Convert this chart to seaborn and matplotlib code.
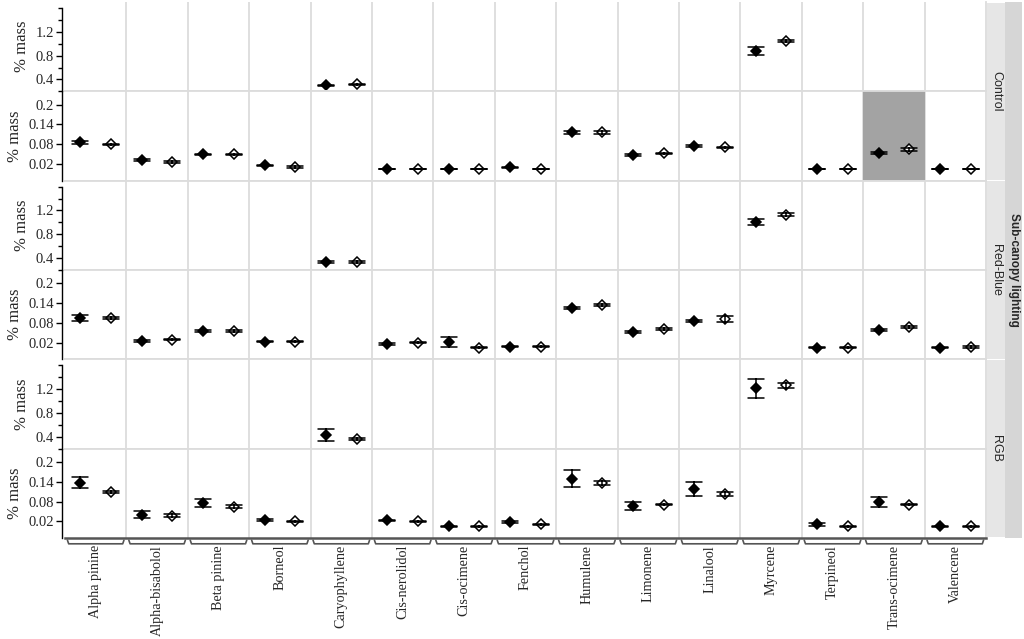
import matplotlib
matplotlib.use('Agg')
import matplotlib.pyplot as plt
import matplotlib.transforms as mtransforms
from matplotlib.patches import Rectangle
from matplotlib.ticker import MultipleLocator
import pandas as pd
import seaborn as sns

# ------------------------------------- DATA -------------------------------------
terpenes = ['Alpha pinine', 'Alpha-bisabolol', 'Beta pinine', 'Borneol', 'Caryophyllene',
            'Cis-nerolidol', 'Cis-ocimene', 'Fenchol', 'Humulene', 'Limonene',
            'Linalool', 'Myrcene', 'Terpineol', 'Trans-ocimene', 'Valencene']
lighting = ['Control', 'Red-Blue', 'RGB']
kinds = ['Filled', 'Open']

control_filled = [0.086, 0.032, 0.050, 0.016, 0.298, 0.005, 0.005, 0.010, 0.116, 0.047, 0.074, 0.876, 0.005, 0.053, 0.005]
control_filled_err = [0.004, 0.002, 0.002, 0.002, 0.015, 0.001, 0.001, 0.002, 0.004, 0.003, 0.003, 0.070, 0.001, 0.003, 0.001]
control_open = [0.080, 0.026, 0.050, 0.011, 0.315, 0.005, 0.005, 0.005, 0.116, 0.053, 0.071, 1.046, 0.005, 0.065, 0.005]
control_open_err = [0.002, 0.004, 0.002, 0.002, 0.015, 0.001, 0.001, 0.001, 0.004, 0.002, 0.002, 0.020, 0.001, 0.004, 0.001]

redblue_filled = [0.095, 0.026, 0.056, 0.023, 0.332, 0.017, 0.022, 0.008, 0.125, 0.053, 0.086, 1.012, 0.005, 0.059, 0.005]
redblue_filled_err = [0.010, 0.003, 0.003, 0.002, 0.015, 0.003, 0.015, 0.002, 0.004, 0.004, 0.003, 0.050, 0.002, 0.002, 0.002]
redblue_open = [0.095, 0.029, 0.056, 0.023, 0.332, 0.020, 0.005, 0.008, 0.134, 0.062, 0.092, 1.130, 0.005, 0.068, 0.008]
redblue_open_err = [0.004, 0.002, 0.004, 0.002, 0.015, 0.002, 0.001, 0.002, 0.003, 0.004, 0.008, 0.030, 0.002, 0.002, 0.003]

rgb_filled = [0.137, 0.041, 0.077, 0.023, 0.434, 0.023, 0.005, 0.017, 0.149, 0.068, 0.119, 1.216, 0.011, 0.080, 0.005]
rgb_filled_err = [0.017, 0.010, 0.012, 0.003, 0.100, 0.002, 0.002, 0.003, 0.026, 0.012, 0.021, 0.160, 0.004, 0.015, 0.002]
rgb_open = [0.110, 0.038, 0.065, 0.020, 0.366, 0.020, 0.005, 0.011, 0.137, 0.071, 0.104, 1.267, 0.005, 0.071, 0.005]
rgb_open_err = [0.003, 0.004, 0.004, 0.002, 0.015, 0.002, 0.001, 0.002, 0.006, 0.002, 0.006, 0.040, 0.001, 0.002, 0.001]

series = {
    ('Control', 'Filled'): (control_filled, control_filled_err),
    ('Control', 'Open'): (control_open, control_open_err),
    ('Red-Blue', 'Filled'): (redblue_filled, redblue_filled_err),
    ('Red-Blue', 'Open'): (redblue_open, redblue_open_err),
    ('RGB', 'Filled'): (rgb_filled, rgb_filled_err),
    ('RGB', 'Open'): (rgb_open, rgb_open_err),
}

# long table: each value is stored as mean-err and mean+err, so the pointplot
# estimate is the mean and the min/max interval is the error bar
rows = []
for (light, kind), (means, errs) in series.items():
    for name, m, e in zip(terpenes, means, errs):
        rows.append((light, kind, name, m, m - e))
        rows.append((light, kind, name, m, m + e))
df = pd.DataFrame(rows, columns=['lighting', 'kind', 'terpene', 'value', 'mass'])

# broken y axis: upper panel shows the large values, lower panel the small ones
upper_lim, lower_lim = (0.2, 1.7), (-0.03, 0.24)

# ------------------------------------- FIGURE -----------------------------------
sns.set_theme(style='white')
plt.rcParams['font.family'] = ['Liberation Serif', 'DejaVu Serif']

fig = plt.figure(figsize=(10.24, 6.39), dpi=100)
left, right = 65 / 1024, 986 / 1024
top, bottom = 1 - 2 / 639, 1 - 538 / 639
gs = fig.add_gridspec(6, 1, left=left, right=right, top=top, bottom=bottom, hspace=0)

grid_col = '#dcdcdc'
for g, light in enumerate(lighting):
    sub = df[df.lighting == light]
    for p in range(2):
        ax = fig.add_subplot(gs[2 * g + p])
        lim = upper_lim if p == 0 else lower_lim
        part = sub[(sub.value > lim[0]) & (sub.value < lim[1])]
        sns.pointplot(data=part, x='terpene', y='mass', hue='kind', order=terpenes,
                      hue_order=kinds, palette={'Filled': 'black', 'Open': 'black'},
                      markers='D', linestyle='none', dodge=0.5,
                      errorbar=lambda v: (v.min(), v.max()), capsize=0.26,
                      err_kws={'linewidth': 1.1}, markersize=5.5, markeredgewidth=1.1,
                      legend=False, ax=ax)
        # second series drawn as open diamonds
        d_lines = [l for l in ax.lines if l.get_marker() == 'D']
        d_lines[1].set_markerfacecolor('white')

        for i in range(len(terpenes) - 1):
            ax.axvline(i + 0.5, color=grid_col, lw=1.3, zorder=0)
        if light == 'Control' and p == 1:
            ax.axvspan(12.5, 13.5, color='#a3a3a3', lw=0, zorder=0)

        ax.set_xlim(-0.5, len(terpenes) - 0.5)
        ax.set_ylim(*lim)
        ax.set_xlabel('')
        ax.set_ylabel('% mass', fontsize=12, labelpad=4)

        if p == 0:
            ax.set_yticks([0.4, 0.8, 1.2])
            ax.set_yticklabels(['0.4', '0.8', '1.2'])
            ax.yaxis.set_minor_locator(MultipleLocator(0.2))
            ax.spines['left'].set_bounds(0.2, 1.6)
        else:
            ax.set_yticks([0.02, 0.08, 0.14, 0.2])
            ax.set_yticklabels(['0.02', '0.08', '0.14', '0.2'])

        ax.tick_params(axis='y', which='both', left=True, direction='out',
                       color='black', width=1, labelsize=10.5, pad=2)
        ax.tick_params(axis='y', which='major', length=4)
        ax.tick_params(axis='y', which='minor', length=3)

        ax.spines['left'].set_color('black')
        ax.spines['left'].set_linewidth(1)
        ax.spines['left'].set_position(('outward', 2))
        for side in ['top', 'right', 'bottom']:
            ax.spines[side].set_color(grid_col)
            ax.spines[side].set_linewidth(1.3)
        if g == 0 and p == 0:
            ax.spines['top'].set_visible(False)

        if g == 2 and p == 1:
            ax.spines['bottom'].set_color('#555555')
            ax.spines['bottom'].set_linewidth(1.8)
            ax.tick_params(axis='x', length=0, pad=5, labelsize=10.2, labelrotation=90)
            # bracket under every column
            trans = mtransforms.blended_transform_factory(ax.transData, ax.transAxes)
            for i in range(len(terpenes)):
                ax.plot([i - 0.46, i - 0.44, i + 0.44, i + 0.46],
                        [-0.025, -0.065, -0.065, -0.025], transform=trans,
                        color='#555555', lw=1.2, clip_on=False)
        else:
            ax.tick_params(axis='x', length=0, labelbottom=False)

# ------------------------------------- STRIPS -----------------------------------
band = (top - bottom) / 3
for g, light in enumerate(lighting):
    y0 = top - (g + 1) * band
    fig.add_artist(Rectangle((987 / 1024, y0 + 0.001), 18 / 1024, band - 0.002,
                             transform=fig.transFigure, color='#e6e6e6', lw=0))
    fig.text(996 / 1024, y0 + band / 2, light, rotation=-90, ha='center', va='center',
             family='Liberation Sans', fontsize=9)
fig.add_artist(Rectangle((1005 / 1024, bottom), 17 / 1024, top - bottom,
                         transform=fig.transFigure, color='#d6d6d6', lw=0))
fig.text(1013.5 / 1024, bottom + (top - bottom) / 2, 'Sub-canopy lighting', rotation=-90,
         ha='center', va='center', family='Liberation Sans', fontsize=8.5, fontweight='bold')

fig.savefig('out.png', dpi=100)
